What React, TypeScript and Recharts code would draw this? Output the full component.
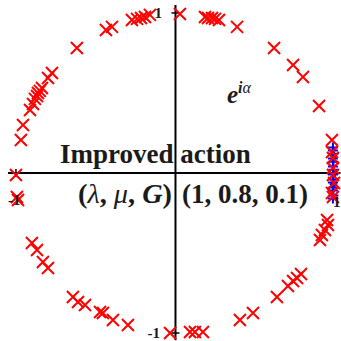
import { ScatterChart, Scatter, XAxis, YAxis, ReferenceLine } from 'recharts'

// eigenvalues of the improved action (re, im)
const redRe = [
  -0.969, -0.956, -0.912, -0.893, -0.881, -0.868, -0.862, -0.85, -0.837, -0.799, -0.774, -0.618,
  -0.436, -0.398, -0.273, -0.241, -0.216, -0.191, -0.16,
  0.028, 0.185, 0.204, 0.229, 0.248, 0.273, 0.386, 0.618, 0.737, 0.799, 0.9, 0.981,
  0.981, 0.987, 0.987, 0.987, 0.994, 0.981, 0.987,
  0.95, 0.956, 0.937, 0.918, 0.906, 0.787, 0.762, 0.737, 0.705, 0.636, 0.486, 0.404,
  0.172, 0.122, 0.091, -0.034,
  -0.298, -0.392, -0.455, -0.473, -0.567, -0.611, -0.643, -0.799, -0.831, -0.868, -0.9,
  -0.994, -0.987, -1.0,
]
const redIm = [
  0.206, 0.3, 0.394, 0.431, 0.463, 0.481, 0.5, 0.513, 0.531, 0.594, 0.625, 0.781,
  0.894, 0.913, 0.956, 0.963, 0.969, 0.975, 0.988,
  0.994, 0.975, 0.969, 0.969, 0.963, 0.956, 0.913, 0.781, 0.675, 0.6, 0.419, 0.206,
  0.131, 0.094, 0.031, -0.013, -0.063, -0.125, -0.15,
  -0.294, -0.325, -0.356, -0.388, -0.419, -0.631, -0.656, -0.675, -0.706, -0.775, -0.875, -0.919,
  -0.994, -0.994, -0.994, -1.0,
  -0.95, -0.919, -0.875, -0.869, -0.825, -0.806, -0.775, -0.594, -0.556, -0.481, -0.438,
  -0.15, -0.169, -0.013,
]
// second set, clustered around 1
const blueRe = [0.987, 0.987, 0.99, 0.987, 0.99, 0.987, 0.99, 0.987, 0.99, 0.987, 0.99, 0.987, 0.99, 0.987]
const blueIm = [0.16, 0.14, 0.12, 0.09, 0.07, 0.04, 0.02, -0.01, -0.04, -0.06, -0.09, -0.11, -0.14, -0.16]
const diamondRe = [0.99, 0.99]
const diamondIm = [0.11, -0.07]

const red = redRe.map((re, i) => ({ re, im: redIm[i] }))
const blue = blueRe.map((re, i) => ({ re, im: blueIm[i] }))
const diamonds = diamondRe.map((re, i) => ({ re, im: diamondIm[i] }))

const Cross = (p: any) => (
  <path d={`M${p.cx - 6},${p.cy - 6}L${p.cx + 6},${p.cy + 6}M${p.cx - 6},${p.cy + 6}L${p.cx + 6},${p.cy - 6}`}
    stroke="#ff0000" strokeWidth={2} fill="none" />
)
const Plus = (p: any) => (
  <path d={`M${p.cx - 5},${p.cy}L${p.cx + 5},${p.cy}M${p.cx},${p.cy - 5}L${p.cx},${p.cy + 5}`}
    stroke="#0000ff" strokeWidth={2} fill="none" />
)
const Diamond = (p: any) => (
  <path d={`M${p.cx},${p.cy - 5}L${p.cx + 4},${p.cy}L${p.cx},${p.cy + 5}L${p.cx - 4},${p.cy}Z`} fill="#0000ff" />
)

const serif = '"Liberation Serif", "DejaVu Serif", serif'
const tk = 0.025

export default function App() {
  return (
    <div style={{ position: 'absolute', left: 0, top: 0, width: 341, height: 341, background: '#fff' }}>
      <ScatterChart width={341} height={341} margin={{ top: 0, right: 0, bottom: 0, left: 0 }}>
        <XAxis type="number" dataKey="re" domain={[-1.1, 1.0376]} hide allowDataOverflow />
        <YAxis type="number" dataKey="im" domain={[-1.05, 1.081]} hide allowDataOverflow />
        <ReferenceLine segment={[{ x: 0, y: -1.045 }, { x: 0, y: 1.05 }]} stroke="#000" strokeWidth={2} />
        <ReferenceLine segment={[{ x: -1.05, y: 0 }, { x: 1.035, y: 0 }]} stroke="#000" strokeWidth={2} />
        <ReferenceLine segment={[{ x: -tk, y: 1 }, { x: tk, y: 1 }]} stroke="#000" strokeWidth={1.5} />
        <ReferenceLine segment={[{ x: -tk, y: -1 }, { x: tk, y: -1 }]} stroke="#000" strokeWidth={1.5} />
        <ReferenceLine segment={[{ x: -1, y: -tk }, { x: -1, y: tk }]} stroke="#000" strokeWidth={1.5} />
        <ReferenceLine segment={[{ x: 1, y: -tk }, { x: 1, y: tk }]} stroke="#000" strokeWidth={1.5} />
        <Scatter data={blue} shape={Plus} isAnimationActive={false} />
        <Scatter data={diamonds} shape={Diamond} isAnimationActive={false} />
        <Scatter data={red} shape={Cross} isAnimationActive={false} />
      </ScatterChart>
      <svg width={341} height={341} style={{ position: 'absolute', left: 0, top: 0, pointerEvents: 'none' }}>
        <g fontFamily={serif} fill="#1a1a1a">
          <text x={162} y={18} fontSize={15} fontWeight="bold" textAnchor="end">1</text>
          <text x={160} y={338} fontSize={15} fontWeight="bold" textAnchor="end">-1</text>
          <text x={8} y={205} fontSize={15} fontWeight="bold">-1</text>
          <text x={333} y={207} fontSize={15} fontWeight="bold">1</text>
          <text x={227} y={103} fontSize={25} fontWeight="bold" fontStyle="italic">
            e<tspan dy={-10} fontSize={16}>i</tspan><tspan fontSize={16} fontWeight="normal">α</tspan>
          </text>
          <text x={60} y={163} fontSize={27} fontWeight="bold">Improved action</text>
          <text x={78} y={203} fontSize={27} fontWeight="bold" textLength={94} lengthAdjust="spacingAndGlyphs">
            (<tspan fontStyle="italic" fontWeight="normal">λ</tspan>, <tspan fontStyle="italic" fontWeight="normal">μ</tspan>, <tspan fontStyle="italic">G</tspan>)
          </text>
          <text x={182} y={203} fontSize={27} fontWeight="bold">(1, 0.8, 0.1)</text>
        </g>
      </svg>
    </div>
  )
}
